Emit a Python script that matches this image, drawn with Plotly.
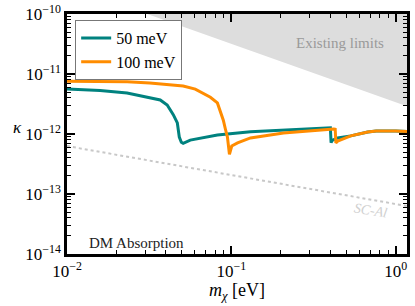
import plotly.graph_objects as go
import numpy as np

# ---- data ----
mass_50 = [0.01, 0.0159, 0.0232, 0.0334, 0.0369, 0.0407, 0.0443, 0.0469, 0.0482, 0.0496,
           0.0509, 0.0562, 0.0822, 0.1306, 0.2075, 0.30, 0.40, 0.404, 0.41, 0.443,
           0.49, 0.532, 0.675, 0.76, 1.0, 1.17]
kappa_50 = [5.6e-12, 5.3e-12, 4.82e-12, 3.98e-12, 3.7e-12, 3.05e-12, 2.1e-12, 1.53e-12, 8.9e-13, 7.3e-13,
            7.0e-13, 7.9e-13, 9.6e-13, 1.09e-12, 1.17e-12, 1.23e-12, 1.27e-12, 7.2e-13, 7.8e-13, 8.6e-13,
            8.9e-13, 9.3e-13, 1.08e-12, 1.12e-12, 1.12e-12, 1.1e-12]

mass_100 = [0.01, 0.0232, 0.0319, 0.0509, 0.0603, 0.0675, 0.0745, 0.0822, 0.087, 0.0893,
            0.0920, 0.0946, 0.0973, 0.1005, 0.109, 0.1306, 0.2075, 0.334, 0.42, 0.428,
            0.432, 0.443, 0.532, 0.675, 0.76, 1.0, 1.17]
kappa_100 = [7.6e-12, 7.4e-12, 7.1e-12, 6.3e-12, 5.6e-12, 4.8e-12, 4.1e-12, 3.3e-12, 2.2e-12, 1.7e-12,
             1.2e-12, 8.9e-13, 4.6e-13, 6.3e-13, 7.1e-13, 8.6e-13, 1.04e-12, 1.17e-12, 1.21e-12, 1.2e-12,
             7.1e-13, 7.6e-13, 9.3e-13, 1.08e-12, 1.12e-12, 1.12e-12, 1.1e-12]

limit_mass = [0.0308, 1.17, 1.17]
limit_kappa = [1e-10, 2.9e-12, 1e-10]

scal_mass = [0.01, 1.17]
scal_kappa = [6.3e-13, 6.3e-14]

x_tickvals = [0.01, 0.1, 1]
x_ticktext = ["10<sup>−2</sup>", "10<sup>−1</sup>", "10<sup>0</sup>"]
y_tickvals = [1e-14, 1e-13, 1e-12, 1e-11, 1e-10]
y_ticktext = ["10<sup>−14</sup>", "10<sup>−13</sup>", "10<sup>−12</sup>", "10<sup>−11</sup>", "10<sup>−10</sup>"]
minor_mult = [2, 3, 4, 5, 6, 7, 8, 9]

FONT = "Liberation Serif"

x_minor = [m * d for d in [0.01, 0.1, 1.0] for m in minor_mult if m * d <= 1.17]
y_minor = [m * d for d in [1e-14, 1e-13, 1e-12, 1e-11] for m in minor_mult]

fig = go.Figure()
fig.add_trace(go.Scatter(x=limit_mass, y=limit_kappa, fill="toself", mode="lines",
                         line=dict(width=0, color="#dddddd"), fillcolor="#dddddd",
                         showlegend=False, hoverinfo="skip"))
fig.add_trace(go.Scatter(x=scal_mass, y=scal_kappa, mode="lines",
                         line=dict(color="#c8c8c8", width=2, dash="dot"),
                         showlegend=False))
fig.add_trace(go.Scatter(x=mass_50, y=kappa_50, mode="lines", name="50 meV",
                         line=dict(color="#00827f", width=3)))
fig.add_trace(go.Scatter(x=mass_100, y=kappa_100, mode="lines", name="100 meV",
                         line=dict(color="#ff8c00", width=3)))

axis_common = dict(type="log", showgrid=False, zeroline=False, showline=True,
                   linecolor="black", linewidth=2.5, mirror="ticks",
                   ticks="inside", ticklen=8, tickwidth=1.5, tickcolor="black",
                   tickfont=dict(family=FONT, size=17, color="black"),
                   automargin=False)

fig.update_xaxes(range=[-2, np.log10(1.17)], tickmode="array", tickvals=x_tickvals, ticktext=x_ticktext,
                 minor=dict(tickmode="array", tickvals=x_minor, ticks="inside", ticklen=4,
                            tickwidth=1.2, tickcolor="black", showgrid=False),
                 **axis_common)
fig.update_yaxes(range=[-14, -10], tickmode="array", tickvals=y_tickvals, ticktext=y_ticktext,
                 minor=dict(tickmode="array", tickvals=y_minor, ticks="inside", ticklen=4,
                            tickwidth=1.2, tickcolor="black", showgrid=False),
                 **axis_common)

fig.add_annotation(text="<i>m</i><sub><i>χ</i></sub> [eV]", xref="paper", yref="paper",
                   x=0.5, y=-0.1, yanchor="top", showarrow=False,
                   font=dict(family=FONT, size=18, color="black"))
fig.add_annotation(text="<i>κ</i>", xref="paper", yref="paper", x=-0.165, y=0.529,
                   showarrow=False, font=dict(family=FONT, size=17, color="black"))
fig.add_annotation(text="Existing limits", x=np.log10(0.46), y=np.log10(3.3e-11),
                   showarrow=False, font=dict(family=FONT, size=15, color="#9a9a9a"))
fig.add_annotation(text="DM Absorption", x=np.log10(0.0264), y=np.log10(1.55e-14),
                   showarrow=False, font=dict(family=FONT, size=15, color="#222222"))
fig.add_annotation(text="<i>SC-Al</i>", x=np.log10(0.705), y=np.log10(5.4e-14),
                   showarrow=False, textangle=9, font=dict(family=FONT, size=14, color="#d0d0d0"))

fig.update_layout(width=415, height=306, margin=dict(l=67, r=8, t=14, b=52),
                  plot_bgcolor="white", paper_bgcolor="white",
                  font=dict(family=FONT, color="black"),
                  legend=dict(x=0.024, y=0.975, xanchor="left", yanchor="top",
                              bgcolor="white", bordercolor="#777777", borderwidth=1,
                              font=dict(family=FONT, size=16, color="black")))

fig.write_html("out.html", config={"displayModeBar": False},
               post_script="document.body.style.margin='0';")
